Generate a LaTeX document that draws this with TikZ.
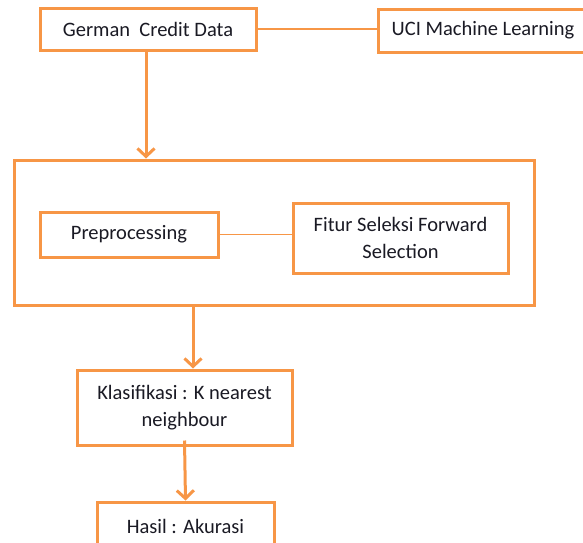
\documentclass[tikz,border=0pt]{standalone}
\usepackage{fontspec}
\setmainfont{Carlito}
\usetikzlibrary{arrows.meta,calc}
\definecolor{acc}{HTML}{F79646}
\definecolor{txt}{HTML}{1A1A24}
\begin{document}
\begin{tikzpicture}[x=1pt,y=-1pt,
  box/.style={draw=acc,line width=3pt,fill=white,inner sep=0pt,align=center,text=txt,
    font=\fontsize{20.5}{27}\selectfont},
  link/.style={draw=acc,line width=1.5pt},
  arr/.style={draw=acc,line width=3pt,-{Straight Barb[length=8pt,width=17pt]}}]
\clip (0,0) rectangle (583,542);
\useasboundingbox (0,0) rectangle (583,542);
\node[box,minimum width=216pt,minimum height=42pt] (german) at (148,29) {German\ \ Credit Data};
\node[box,minimum width=210pt,minimum height=43pt] (uci) at (483,30.5) {UCI Machine Learning};
\node[box,minimum width=520pt,minimum height=145pt] (outer) at (274,232.5) {};
\node[box,minimum width=178pt,minimum height=45pt] (prep) at (129,234.5) {Preprocessing};
\node[box,minimum width=215pt,minimum height=70pt] (fitur) at (400.5,238) {Fitur Seleksi Forward\\Selection};
\node[box,minimum width=215pt,minimum height=75pt] (klas) at (184.5,407.5) {Klasifikasi : K nearest\\neighbour};
\node[box,minimum width=177pt,minimum height=48pt] (hasil) at (185.5,526) {Hasil : Akurasi};
\draw[link] (german.east) -- (german.east -| uci.west);
\draw[link] (prep.east) -- (prep.east -| fitur.west);
\draw[arr] ([xshift=-2pt]german.south) -- ([xshift=-2pt]german.south |- outer.north);
\draw[arr] ([xshift=8.5pt]klas.north |- outer.south) -- ([xshift=8.5pt]klas.north);
\draw[arr] ([yshift=6pt]klas.south) -- (hasil.north);
\end{tikzpicture}
\end{document}
